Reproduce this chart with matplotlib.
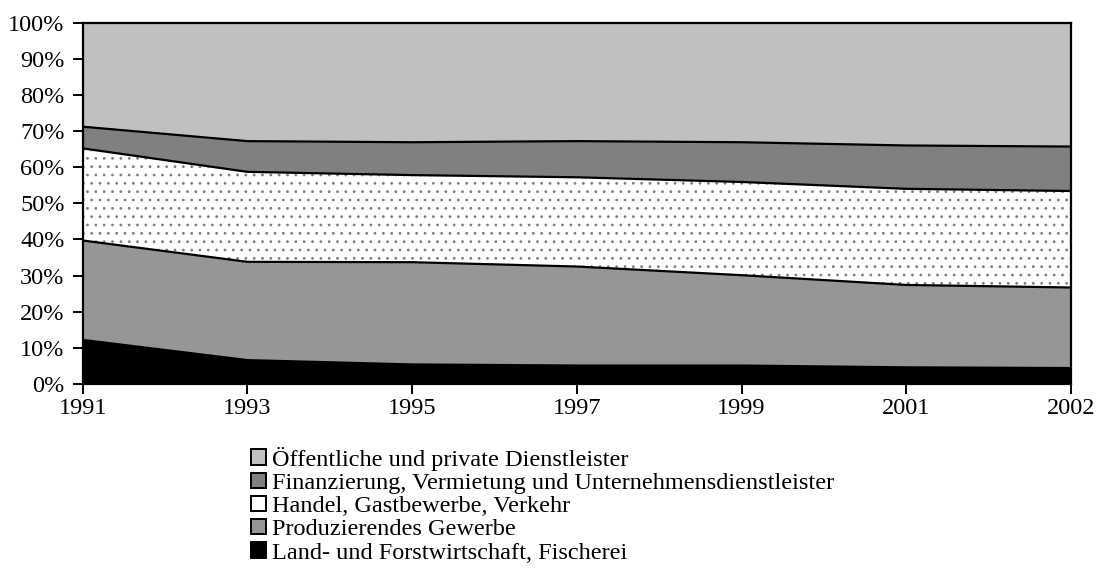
import matplotlib
matplotlib.use("Agg")
import matplotlib.pyplot as plt
import numpy as np
from matplotlib.patches import Patch

plt.rcParams["font.family"] = ["Liberation Serif", "DejaVu Serif"]
plt.rcParams["hatch.color"] = "#808080"
plt.rcParams["hatch.linewidth"] = 0.8

# Shares per sector (percent of total)
years = ["1991", "1993", "1995", "1997", "1999", "2001", "2002"]
land = [12.2, 6.6, 5.4, 5.1, 5.1, 4.6, 4.4]
produzierend = [27.5, 27.2, 28.3, 27.4, 25.0, 22.8, 22.3]
handel = [25.5, 24.9, 24.1, 24.7, 25.8, 26.6, 26.7]
finanz = [6.0, 8.5, 9.1, 10.0, 11.0, 12.0, 12.3]
oeffentlich = [28.8, 32.8, 33.1, 32.8, 33.1, 34.0, 34.3]

labels = [
    "Land- und Forstwirtschaft, Fischerei",
    "Produzierendes Gewerbe",
    "Handel, Gastbewerbe, Verkehr",
    "Finanzierung, Vermietung und Unternehmensdienstleister",
    "Öffentliche und private Dienstleister",
]
colors = ["#000000", "#969696", "#ffffff", "#808080", "#c0c0c0"]

FS = 17.5

fig = plt.figure(figsize=(10.98, 5.80), dpi=100)
ax = fig.add_axes([0.0753, 0.338, 0.9001, 0.623])

x = np.arange(len(years))
series = np.array([land, produzierend, handel, finanz, oeffentlich])
# normalise to 100 %
series = series / series.sum(axis=0) * 100

polys = ax.stackplot(x, series, colors=colors, linewidth=0)
polys[2].set_hatch("..")
polys[2].set_edgecolor("#808080")
polys[2].set_linewidth(0)

# black boundary lines between the layers
tops = np.cumsum(series, axis=0)
for row in tops[:-1]:
    ax.plot(x, row, color="black", linewidth=1.6, solid_joinstyle="miter")

ax.set_xlim(0, len(years) - 1)
ax.set_ylim(0, 100)
ax.set_xticks(x)
ax.set_xticklabels(years)
ax.set_yticks(np.arange(0, 101, 10))
ax.set_yticklabels([f"{v}%" for v in range(0, 101, 10)])
ax.tick_params(axis="both", direction="out", length=7, width=1.4,
               labelsize=FS, colors="black")
ax.tick_params(axis="x", pad=3)
ax.tick_params(axis="y", pad=6)
for s in ax.spines.values():
    s.set_linewidth(1.6)
    s.set_color("black")

handles = [Patch(facecolor=c, edgecolor="black", linewidth=1.4)
           for c in colors]
fig.legend(handles[::-1], labels[::-1], loc="upper left",
           bbox_to_anchor=(0.229, 0.23), frameon=False, fontsize=FS,
           handlelength=0.6, handleheight=0.6, handletextpad=0.25,
           labelspacing=0.08, borderpad=0, borderaxespad=0)

fig.savefig("out.png", dpi=100, facecolor="white")
